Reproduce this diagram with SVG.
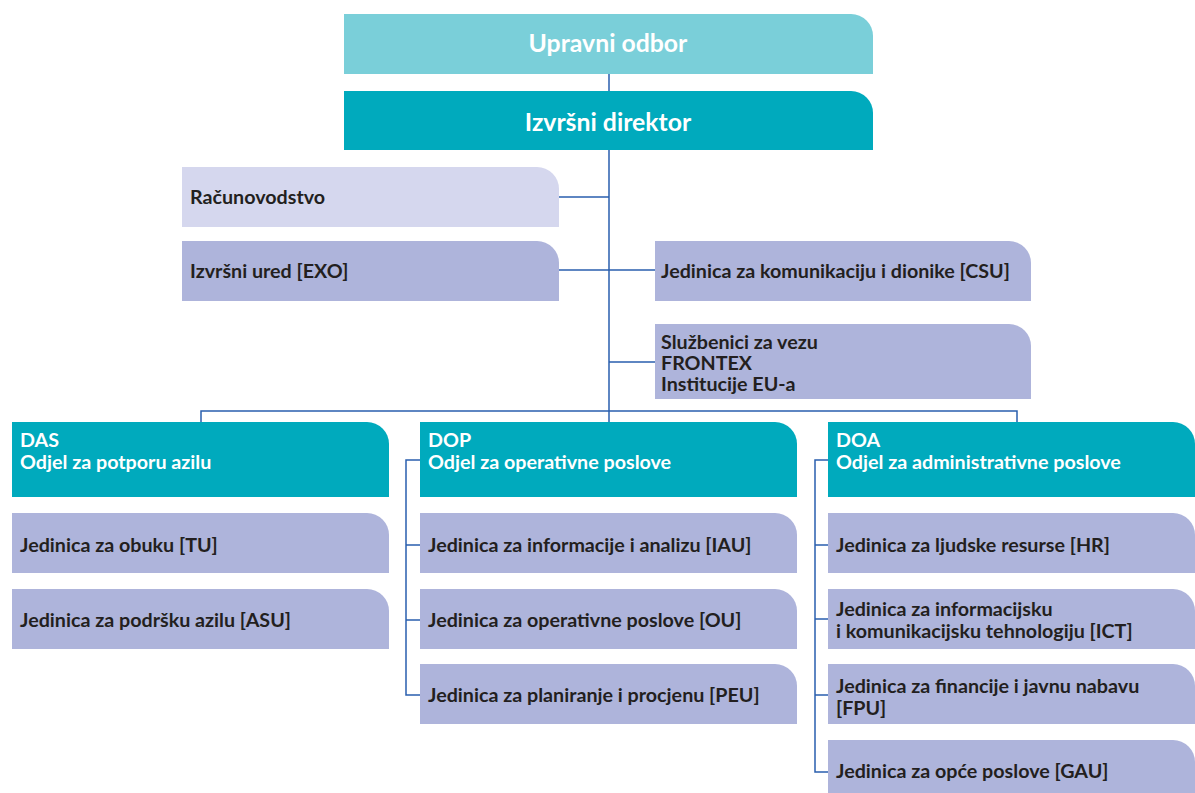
<svg xmlns="http://www.w3.org/2000/svg" width="1195" height="793" viewBox="0 0 1195 793">
<style>
text{font-family:Lato,"Liberation Sans",sans-serif;font-weight:bold;font-size:19.7px;fill:#231F20}
.t{fill:#fff;font-size:24.8px}
.w{fill:#fff}
.c{fill:none;stroke:#2A5FAE;stroke-width:1.5}
.u{fill:#AEB4DB}
.l{fill:#D5D7EE}
.h{fill:#00AABD}
.b{fill:#7ACFD9}
</style>
<rect width="1195" height="793" fill="#fff"/>
<g id="connectors">
<path class="c" d="M609,74V91M609,150V422M559,197H609M559,270H655M609,362H655M201,422V411H1017V422"/>
<path class="c" d="M420,460H406V695H420M406,545H420M406,620H420"/>
<path class="c" d="M828,460H815V772H828M815,545H828M815,619H828M815,695H828"/>
</g>
<g id="upravni"><path class="b" d="M344,14H851A22,22 0 0 1 873,36V74H344Z"/><text class="t" x="608" y="52" text-anchor="middle">Upravni odbor</text></g>
<g id="direktor"><path class="h" d="M344,91H851A22,22 0 0 1 873,113V150H344Z"/><text class="t" x="608" y="131" text-anchor="middle">Izvršni direktor</text></g>
<g id="racunovodstvo"><path class="l" d="M182,167H537A22,22 0 0 1 559,189V227H182Z"/><text x="190" y="204">Računovodstvo</text></g>
<g id="exo"><path class="u" d="M182,241H537A22,22 0 0 1 559,263V301H182Z"/><text x="190" y="278">Izvršni ured [EXO]</text></g>
<g id="csu"><path class="u" d="M655,241H1009A22,22 0 0 1 1031,263V301H655Z"/><text x="661" y="278">Jedinica za komunikaciju i dionike [CSU]</text></g>
<g id="veza"><path class="u" d="M655,324H1009A22,22 0 0 1 1031,346V399H655Z"/><text x="661" y="349">Službenici za vezu</text><text x="661" y="370">FRONTEX</text><text x="661" y="391">Institucije EU-a</text></g>
<g id="das"><path class="h" d="M12,422H367A22,22 0 0 1 389,444V497H12Z"/><text class="w" x="20" y="447">DAS</text><text class="w" x="20" y="469">Odjel za potporu azilu</text></g>
<g id="dop"><path class="h" d="M420,422H775A22,22 0 0 1 797,444V497H420Z"/><text class="w" x="428" y="447">DOP</text><text class="w" x="428" y="469">Odjel za operativne poslove</text></g>
<g id="doa"><path class="h" d="M828,422H1173A22,22 0 0 1 1195,444V497H828Z"/><text class="w" x="836" y="447">DOA</text><text class="w" x="836" y="469">Odjel za administrativne poslove</text></g>
<g id="tu"><path class="u" d="M12,513H367A22,22 0 0 1 389,535V573H12Z"/><text x="20" y="552">Jedinica za obuku [TU]</text></g>
<g id="asu"><path class="u" d="M12,589H367A22,22 0 0 1 389,611V649H12Z"/><text x="20" y="627">Jedinica za podršku azilu [ASU]</text></g>
<g id="iau"><path class="u" d="M420,513H775A22,22 0 0 1 797,535V573H420Z"/><text x="428" y="552">Jedinica za informacije i analizu [IAU]</text></g>
<g id="ou"><path class="u" d="M420,589H775A22,22 0 0 1 797,611V649H420Z"/><text x="428" y="627">Jedinica za operativne poslove [OU]</text></g>
<g id="peu"><path class="u" d="M420,664H775A22,22 0 0 1 797,686V724H420Z"/><text x="428" y="702">Jedinica za planiranje i procjenu [PEU]</text></g>
<g id="hr"><path class="u" d="M828,513H1173A22,22 0 0 1 1195,535V573H828Z"/><text x="836" y="552">Jedinica za ljudske resurse [HR]</text></g>
<g id="ict"><path class="u" d="M828,589H1173A22,22 0 0 1 1195,611V649H828Z"/><text x="836" y="616">Jedinica za informacijsku</text><text x="836" y="638">i komunikacijsku tehnologiju [ICT]</text></g>
<g id="fpu"><path class="u" d="M828,664H1173A22,22 0 0 1 1195,686V724H828Z"/><text x="836" y="693">Jedinica za financije i javnu nabavu</text><text x="836" y="715">[FPU]</text></g>
<g id="gau"><path class="u" d="M828,740H1173A22,22 0 0 1 1195,762V793H828Z"/><text x="836" y="778">Jedinica za opće poslove [GAU]</text></g>
</svg>
